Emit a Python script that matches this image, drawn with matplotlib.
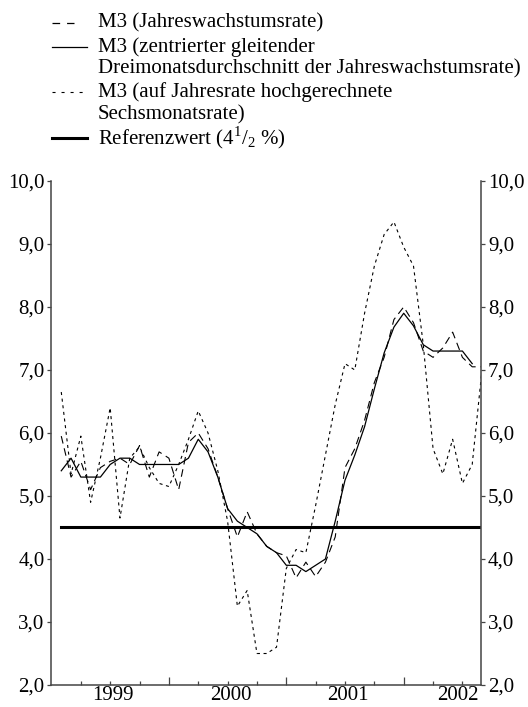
import matplotlib
matplotlib.use('Agg')
import matplotlib.pyplot as plt
import numpy as np

plt.rcParams['font.family'] = ['Liberation Serif', 'DejaVu Serif']
plt.rcParams['mathtext.fontset'] = 'custom'
plt.rcParams['mathtext.rm'] = 'Liberation Serif'
plt.rcParams['lines.scale_dashes'] = False

# Monatswerte Jan 1999 (1) bis Aug 2002 (44)
monate = np.arange(1, 45)

jahresrate = [5.95, 5.3, 5.55, 5.1, 5.45, 5.55, 5.6, 5.5, 5.8, 5.3,
              5.7, 5.6, 5.1, 5.85, 6.0, 5.75, 5.3, 4.8, 4.35, 4.75,
              4.4, 4.2, 4.1, 4.05, 3.7, 3.95, 3.72, 3.95, 4.35, 5.45,
              5.75, 6.2, 6.8, 7.2, 7.8, 8.0, 7.75, 7.3, 7.2, 7.35,
              7.6, 7.2, 7.05, 7.05]

dreimonat = [5.4, 5.6, 5.3, 5.3, 5.3, 5.5, 5.6, 5.6, 5.5, 5.5,
             5.5, 5.5, 5.5, 5.6, 5.9, 5.7, 5.3, 4.8, 4.6, 4.5,
             4.4, 4.2, 4.1, 3.9, 3.9, 3.8, 3.9, 4.0, 4.6, 5.25,
             5.65, 6.1, 6.7, 7.27, 7.68, 7.9, 7.7, 7.4, 7.3, 7.3,
             7.3, 7.3, 7.1]

sechsmonat = [6.65, 5.35, 5.95, 4.9, 5.6, 6.4, 4.65, 5.6, 5.78, 5.45,
              5.2, 5.15, 5.5, 5.9, 6.35, 6.0, 5.4, 4.6, 3.25, 3.5,
              2.5, 2.5, 2.6, 3.85, 4.15, 4.1, 4.85, 5.65, 6.45, 7.1,
              7.0, 7.9, 8.65, 9.15, 9.35, 8.95, 8.65, 7.4, 5.75, 5.35,
              5.9, 5.2, 5.5, 7.0]

referenzwert = 4.5

jahre = ['1999', '2000', '2001', '2002']
jahr_pos = [6.3, 18.3, 30.3, 41.5]
y_ticks = [2, 3, 4, 5, 6, 7, 8, 9, 10]

fig = plt.figure(figsize=(5.28, 7.07), dpi=100)
ax = fig.add_axes([0.0975, 0.0311, 0.8135, 0.713])

ax.plot(monate, jahresrate, color='black', lw=0.8, dashes=(5.5, 3.5))
ax.plot(monate[:len(dreimonat)], dreimonat, color='black', lw=0.9)
ax.plot(monate, sechsmonat, color='black', lw=0.8, dashes=(2.2, 2.6))
ax.plot([monate[0], monate[-1]], [referenzwert, referenzwert], color='black', lw=2.2)

ax.set_xlim(0, 43.9)
ax.set_ylim(2, 10)

ax.spines['top'].set_visible(False)
for s in ['left', 'right', 'bottom']:
    ax.spines[s].set_color('#444444')
    ax.spines[s].set_linewidth(1.1)

ax.set_yticks(y_ticks)
ax.set_yticklabels([f'{v},0' for v in y_ticks])
ax.tick_params(axis='y', which='both', direction='out', length=3, width=0.9,
               color='#444444', labelsize=15, left=True, right=True,
               labelleft=True, labelright=True, pad=2)

kurz = [m for m in range(3, 44, 3) if m % 12 != 0]
lang = [12, 24, 36]
ax.set_xticks(lang)
ax.set_xticklabels([])
ax.tick_params(axis='x', which='major', direction='in', length=6, width=0.9, color='#444444')
ax.set_xticks(kurz + jahr_pos, minor=True)
ax.set_xticklabels([''] * len(kurz) + jahre, minor=True)
ax.tick_params(axis='x', which='minor', direction='in', length=3, width=0.9,
               color='#444444', labelsize=15, pad=1)
for t in ax.xaxis.get_minor_ticks()[len(kurz):]:
    t.tick1line.set_visible(False)

# Legende oben
lax = fig.add_axes([0, 0, 1, 1])
lax.set_xlim(0, 528)
lax.set_ylim(707, 0)
lax.axis('off')
lax.plot([52, 74], [23, 23], color='black', lw=0.9, dashes=(5.5, 5))
lax.plot([52, 87], [47, 47], color='black', lw=0.9)
lax.plot([52, 87], [92, 92], color='black', lw=0.8, dashes=(2.2, 4.3))
lax.plot([52, 87], [138, 138], color='black', lw=2.2)
texte = [(23, 'M3 (Jahreswachstumsrate)'),
         (47, 'M3 (zentrierter gleitender'),
         (69, 'Dreimonatsdurchschnitt der Jahreswachstumsrate)'),
         (92, 'M3 (auf Jahresrate hochgerechnete'),
         (115, 'Sechsmonatsrate)'),
         (138, r'Referenzwert (4$^{1}$/$\mathregular{_{2}}$ %)')]
for y, t in texte:
    lax.text(98, y, t, fontsize=15, va='center', ha='left')

fig.savefig('out.png', dpi=100)
